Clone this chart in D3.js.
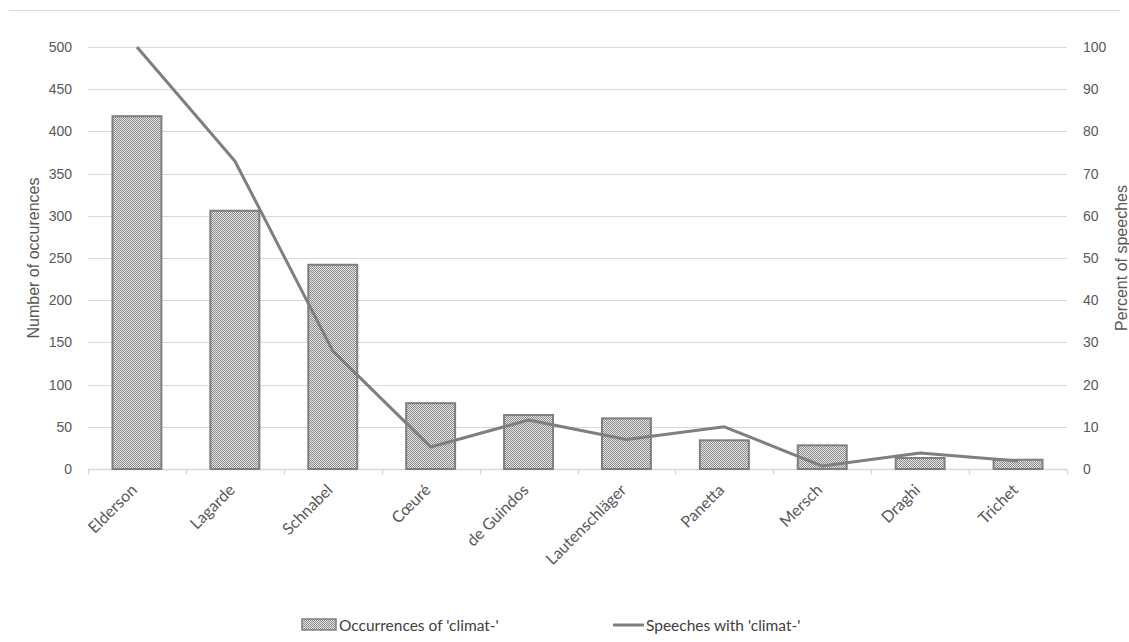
<!DOCTYPE html>
<html><head><meta charset="utf-8">
<script src="https://cdn.jsdelivr.net/npm/d3@7"></script>
<style>body{margin:0;background:#fff}</style></head>
<body><svg id="c" width="1129" height="642"></svg>
<script>
const categories = ["Elderson","Lagarde","Schnabel","Cœuré","de Guindos","Lautenschläger","Panetta","Mersch","Draghi","Trichet"];
const occurrences = [418, 306, 242, 78, 64, 60, 34, 28, 13, 11];
const speechesPct = [100, 73, 28, 5.2, 11.6, 7, 10, 0.7, 3.8, 1.9];
const leftTicks = [0,50,100,150,200,250,300,350,400,450,500];
const rightTicks = [0,10,20,30,40,50,60,70,80,90,100];
const seriesNames = ["Occurrences of 'climat-'", "Speeches with 'climat-'"];
const axisTitles = ["Number of occurences", "Percent of speeches"];

(function(){
const svg = d3.select("#c");
const pL = 88, pR = 1067, pT = 47, pB = 469;
const gray = "#7f7f7f", txt = "#595959", grid = "#d9d9d9";
const lab = "Lato, Open Sans, sans-serif";

const defs = svg.append("defs");
const pat = defs.append("pattern").attr("id","chk").attr("patternUnits","userSpaceOnUse").attr("width",2).attr("height",2);
pat.append("rect").attr("width",2).attr("height",2).attr("fill","#e6e6e6");
pat.append("rect").attr("width",1).attr("height",1).attr("fill","#8a8a8a");
pat.append("rect").attr("x",1).attr("y",1).attr("width",1).attr("height",1).attr("fill","#8a8a8a");

const x = d3.scaleBand().domain(categories).range([pL,pR]);
const y = d3.scaleLinear().domain([0,500]).range([pB,pT]);
const y2 = d3.scaleLinear().domain([0,100]).range([pB,pT]);

svg.append("line").attr("x1",9).attr("x2",1120).attr("y1",10.5).attr("y2",10.5).attr("stroke",grid);

svg.append("g").selectAll("line").data(leftTicks.filter(d=>d>0)).join("line")
  .attr("x1",pL).attr("x2",pR).attr("y1",d=>Math.round(y(d))+0.5).attr("y2",d=>Math.round(y(d))+0.5)
  .attr("stroke",grid).attr("stroke-width",1);

const gl = svg.append("g").attr("transform",`translate(${pL},0)`)
  .call(d3.axisLeft(y).tickValues(leftTicks).tickSize(0).tickPadding(16));
gl.select(".domain").remove();
gl.selectAll("text").attr("font-family","Liberation Sans, Arial").attr("font-size",14).attr("fill",txt);

const gr = svg.append("g").attr("transform",`translate(${pR},0)`)
  .call(d3.axisRight(y2).tickValues(rightTicks).tickSize(0).tickPadding(16));
gr.select(".domain").remove();
gr.selectAll("text").attr("font-family","Liberation Sans, Arial").attr("font-size",14).attr("fill",txt);

const gx = svg.append("g").attr("transform",`translate(0,${pB+0.5})`);
gx.append("line").attr("x1",pL).attr("x2",pR).attr("stroke",grid).attr("stroke-width",1.5);
gx.selectAll("line.t").data(d3.range(categories.length+1)).join("line").attr("class","t")
  .attr("x1",i=>Math.round(pL+i*x.step())+0.5).attr("x2",i=>Math.round(pL+i*x.step())+0.5)
  .attr("y1",0).attr("y2",5).attr("stroke",grid).attr("stroke-width",1.5);

const bw = x.bandwidth()*0.5;
svg.append("g").selectAll("rect").data(occurrences).join("rect")
  .attr("x",(d,i)=>x(categories[i])+x.bandwidth()/2-bw/2)
  .attr("y",d=>y(d)).attr("width",bw).attr("height",d=>pB-y(d))
  .attr("fill","url(#chk)").attr("stroke",gray).attr("stroke-width",2);

const line = d3.line().x((d,i)=>x(categories[i])+x.bandwidth()/2).y(d=>y2(d));
svg.append("path").datum(speechesPct).attr("d",line).attr("fill","none")
  .attr("stroke",gray).attr("stroke-width",3).attr("stroke-linejoin","round");

svg.append("g").selectAll("text").data(categories).join("text")
  .attr("transform",d=>`translate(${x(d)+x.bandwidth()/2+1},${pB+22}) rotate(-45)`)
  .attr("text-anchor","end").attr("font-family",lab).attr("font-size",16)
  .attr("fill",txt).text(d=>d);

svg.append("text").attr("transform",`translate(39,258) rotate(-90)`).attr("text-anchor","middle")
  .attr("font-family","Liberation Sans, Arial").attr("font-size",16).attr("fill",txt).text(axisTitles[0]);
svg.append("text").attr("transform",`translate(1127,258) rotate(-90)`).attr("text-anchor","middle")
  .attr("font-family","Liberation Sans, Arial").attr("font-size",16).attr("fill",txt).text(axisTitles[1]);

svg.append("rect").attr("x",302).attr("y",619).attr("width",34).attr("height",11)
  .attr("fill","url(#chk)").attr("stroke",gray).attr("stroke-width",1.5);
svg.append("text").attr("x",339).attr("y",631).attr("font-family",lab)
  .attr("font-size",15.5).attr("fill","#404040").text(seriesNames[0]);
svg.append("line").attr("x1",613).attr("x2",644).attr("y1",625).attr("y2",625).attr("stroke",gray).attr("stroke-width",3);
svg.append("text").attr("x",646).attr("y",631).attr("font-family",lab)
  .attr("font-size",15.5).attr("fill","#404040").text(seriesNames[1]);
})();
</script></body></html>
